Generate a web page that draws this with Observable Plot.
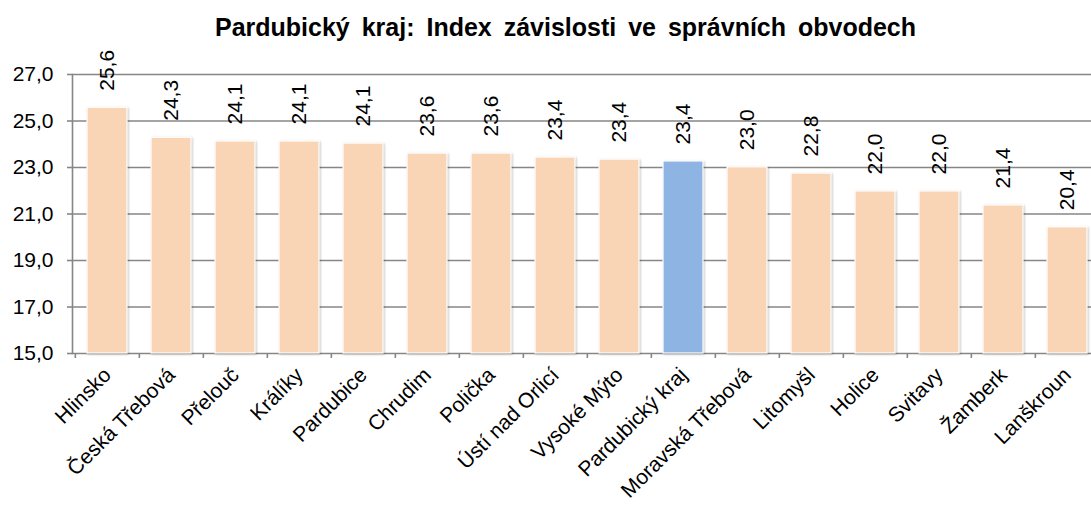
<!DOCTYPE html>
<html>
<head>
<meta charset="utf-8">
<script src="https://cdn.jsdelivr.net/npm/d3@7"></script>
<script src="https://cdn.jsdelivr.net/npm/@observablehq/plot@0.6"></script>
<style>
  html, body { margin: 0; padding: 0; background: #fff; overflow: hidden; }
  #title { height: 50px; width: 1091px; box-sizing: border-box; padding-left: 40px; text-align: center;
           font: bold 25px "Liberation Sans", Arial, sans-serif; line-height: 54px; color: #000; word-spacing: 5px; }
  #chart svg { overflow: visible; }
  #chart svg g[aria-label="bar"] rect { filter: drop-shadow(1px 1px 1.2px rgba(0,0,0,0.22)); }
</style>
</head>
<body>
<div id="title">Pardubický kraj: Index závislosti ve správních obvodech</div>
<div id="chart"></div>
<script>
const categories = ["Hlinsko", "Česká Třebová", "Přelouč", "Králíky", "Pardubice", "Chrudim", "Polička",
  "Ústí nad Orlicí", "Vysoké Mýto", "Pardubický kraj", "Moravská Třebová", "Litomyšl", "Holice",
  "Svitavy", "Žamberk", "Lanškroun"];
const values = [25.57, 24.28, 24.12, 24.12, 24.03, 23.6, 23.6, 23.43, 23.34, 23.26, 23.01, 22.74, 21.97, 21.97, 21.37, 20.43];
const valueLabels = ["25,6", "24,3", "24,1", "24,1", "24,1", "23,6", "23,6", "23,4", "23,4", "23,4", "23,0", "22,8", "22,0", "22,0", "21,4", "20,4"];
const highlighted = ["Pardubický kraj"];
const yTicks = [15, 17, 19, 21, 23, 25, 27];

const data = categories.map((c, i) => ({cat: c, value: values[i], label: valueLabels[i]}));
const step = (1101 - 72) / categories.length;
const fmt = d => d.toFixed(1).replace(".", ",");

const chart = Plot.plot({
  width: 1091,
  height: 455,
  marginTop: 24,
  marginBottom: 152,
  marginLeft: 72,
  marginRight: 0,
  style: {fontFamily: "'Liberation Sans', Arial, sans-serif", fontSize: "21px", color: "#000", background: "transparent", overflow: "visible"},
  x: {domain: categories, range: [72, 1101], paddingInner: 0.375, paddingOuter: 0.1875, label: null},
  y: {domain: [15, 27], label: null},
  marks: [
    Plot.gridY(yTicks, {stroke: "#868686", strokeOpacity: 1, strokeWidth: 1.6}),
    Plot.barY(data, {x: "cat", y1: 15, y2: "value",
      fill: d => highlighted.includes(d.cat) ? "#8EB4E3" : "#FAD5B5",
      stroke: "#ffffff", strokeWidth: 1.2}),
    Plot.text(data, {x: "cat", y: "value", text: "label", rotate: -90, textAnchor: "start", dy: -17,
      fontSize: 21, fill: "#000"}),
    Plot.frame({anchor: "left", stroke: "#868686", strokeWidth: 1.6}),
    Plot.axisY({ticks: yTicks, tickFormat: fmt, tickSize: 5, tickPadding: 14, stroke: "#868686", strokeWidth: 1.6, fontSize: 21, fill: "#000"}),
    Plot.axisX({tickSize: 5, dx: -step / 2, tickFormat: () => "", stroke: "#868686", strokeWidth: 1.6, label: null}),
    Plot.axisX({tickSize: 0, tickPadding: 18, tickRotate: -45, fontSize: 21, fill: "#000", label: null})
  ]
});
document.getElementById("chart").appendChild(chart);
</script>
</body>
</html>
